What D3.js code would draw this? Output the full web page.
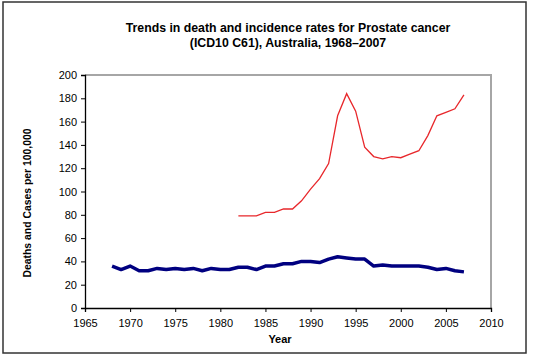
<!DOCTYPE html>
<html>
<head>
<meta charset="utf-8">
<script src="https://cdn.jsdelivr.net/npm/d3@7"></script>
<style>
  html, body { margin: 0; padding: 0; background: #fff; }
  svg { display: block; font-family: "Liberation Sans", Arial, sans-serif; }
</style>
</head>
<body>
<svg id="chart" width="534" height="359"></svg>
<script>
const titleLines = ["Trends in death and incidence rates for Prostate cancer", "(ICD10 C61), Australia, 1968\u20132007"];
const yLabel = "Deaths and Cases per 100,000";
const xLabel = "Year";

const deathYears = d3.range(1968, 2008);
const deathValues = [36, 33, 36, 32, 32, 34, 33, 34, 33, 34, 32, 34, 33, 33, 35, 35, 33, 36, 36, 38,
                     38, 40, 40, 39, 42, 44, 43, 42, 42, 36, 37, 36, 36, 36, 36, 35, 33, 34, 32, 31];
const incidenceYears = d3.range(1982, 2008);
const incidenceValues = [79, 79, 79, 82, 82, 85, 85, 92, 102, 111, 124, 165, 184, 169, 138, 130, 128, 130,
                         129, 132, 135, 148, 165, 168, 171, 183];
const xTicks = [1965, 1970, 1975, 1980, 1985, 1990, 1995, 2000, 2005, 2010];
const yTicks = [0, 20, 40, 60, 80, 100, 120, 140, 160, 180, 200];

const svg = d3.select("#chart");
const L = 85, R = 491, T = 75, B = 308;

const x = d3.scaleLinear().domain([1965, 2010]).range([L, R]);
const y = d3.scaleLinear().domain([0, 200]).range([B, T]);

// outer frame
svg.append("rect").attr("x", 3).attr("y", 2).attr("width", 523).attr("height", 351)
  .attr("fill", "#fff").attr("stroke", "#333").attr("stroke-width", 1.5);

// plot area border top/right
svg.append("path")
  .attr("d", `M${L},${T}H${R}V${B}`)
  .attr("fill", "none").attr("stroke", "#a6a6a6").attr("stroke-width", 2);

// title
const title = svg.append("text").attr("text-anchor", "middle")
  .attr("font-weight", "bold").attr("font-size", 12.3).attr("fill", "#000");
titleLines.forEach((t, i) => {
  title.append("tspan").attr("x", 288).attr("y", 32 + i * 15).text(t);
});

// axes
const yAxis = svg.append("g").attr("transform", `translate(${L},0)`)
  .call(d3.axisLeft(y).tickValues(yTicks).tickSize(4).tickPadding(4).tickFormat(d3.format("d")));
const xAxis = svg.append("g").attr("transform", `translate(0,${B})`)
  .call(d3.axisBottom(x).tickValues(xTicks).tickSize(4).tickPadding(7).tickFormat(d3.format("d")));
[yAxis, xAxis].forEach(a => {
  a.selectAll("path").attr("stroke", "#000").attr("stroke-width", 1.3);
  a.selectAll("line").attr("stroke", "#000");
  a.selectAll("text").attr("font-size", 11).attr("fill", "#000")
    .attr("font-family", "'Liberation Sans', Arial, sans-serif");
});

// axis labels
svg.append("text").attr("x", 280).attr("y", 343).attr("text-anchor", "middle")
  .attr("font-weight", "bold").attr("font-size", 11).text(xLabel);
svg.append("text").attr("transform", "translate(31,203) rotate(-90)").attr("text-anchor", "middle")
  .attr("font-weight", "bold").attr("font-size", 10.4).text(yLabel);

// lines
const line = d3.line().x(d => x(d[0])).y(d => y(d[1]));
svg.append("path")
  .datum(incidenceYears.map((yr, i) => [yr, incidenceValues[i]]))
  .attr("d", line).attr("fill", "none").attr("stroke", "#e8272b").attr("stroke-width", 1.3);
svg.append("path")
  .datum(deathYears.map((yr, i) => [yr, deathValues[i]]))
  .attr("d", line).attr("fill", "none").attr("stroke", "#000080").attr("stroke-width", 3.5)
  .attr("stroke-linejoin", "round");
</script>
</body>
</html>
